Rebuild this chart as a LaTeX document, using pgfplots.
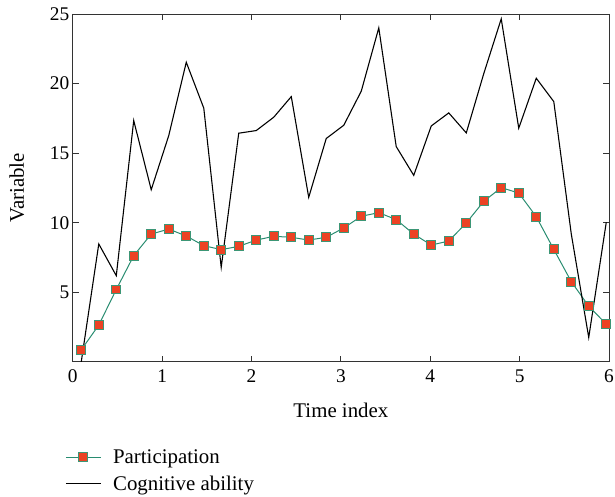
\documentclass[border=0pt]{standalone}
\usepackage{pgfplots}
\pgfplotsset{compat=1.18}
\usepackage{fontspec}
\setmainfont{Liberation Serif}
\definecolor{tealline}{RGB}{40,140,112}
\definecolor{redfill}{RGB}{236,66,36}
\definecolor{markedge}{RGB}{60,150,118}
\begin{document}
\begin{tikzpicture}
\begin{axis}[
  scale only axis, width=538bp, height=349bp,
  xmin=0, xmax=6, ymin=0, ymax=25,
  xtick={0,1,2,3,4,5,6}, ytick={5,10,15,20,25},
  tick align=inside, major tick length=6bp,
  axis line style={line width=0.9pt, black!80},
  every tick/.style={line width=0.8pt, black!80},
  font=\fontsize{21}{25}\selectfont,
  tick label style={font=\fontsize{19.5}{23}\selectfont},
  xticklabel style={yshift=-4bp},
  /pgf/number format/assume math mode=true,
  xlabel={Time index}, ylabel={Variable},
  xlabel style={yshift=-14bp},
  ylabel style={yshift=19bp},
  legend style={at={(-0.02,-0.24)}, anchor=north west, draw=none, fill=none,
    font=\fontsize{21}{25}\selectfont, row sep=7bp,
    /tikz/every odd column/.append style={column sep=10bp}},
  legend cell align=left,
  legend image code/.code={\draw[mark repeat=2,mark phase=2,#1] plot coordinates {(0bp,0bp) (17.5bp,0bp) (35bp,0bp)};},
]
\addplot[tealline, line width=1pt, mark=square*, mark size=4.5pt,
  mark options={fill=redfill, draw=markedge, line width=1pt}] coordinates {
(0.095,0.86) (0.291,2.64) (0.487,5.20) (0.682,7.63) (0.878,9.18) (1.074,9.54)
(1.270,9.04) (1.466,8.35) (1.661,8.06) (1.857,8.30) (2.053,8.75) (2.249,9.02)
(2.445,8.95) (2.640,8.75) (2.836,8.95) (3.032,9.62) (3.228,10.46) (3.424,10.72)
(3.619,10.22) (3.815,9.18) (4.011,8.39) (4.207,8.68) (4.403,9.98) (4.598,11.53)
(4.794,12.52) (4.990,12.13) (5.186,10.43) (5.382,8.08) (5.578,5.76) (5.773,4.00)
(5.969,2.71)
};
\addlegendentry{Participation}
\addplot[black, line width=1.1pt, mark=none] coordinates {
(0.095,0.0) (0.291,8.47) (0.487,6.19) (0.682,17.34) (0.878,12.37) (1.074,16.26)
(1.270,21.53) (1.466,18.23) (1.661,6.79) (1.857,16.43) (2.053,16.62) (2.249,17.58)
(2.445,19.06) (2.640,11.82) (2.836,16.05) (3.032,17.00) (3.228,19.45) (3.424,24.00)
(3.619,15.47) (3.815,13.40) (4.011,16.95) (4.207,17.89) (4.403,16.45) (4.598,20.70)
(4.794,24.65) (4.990,16.79) (5.186,20.38) (5.382,18.70) (5.578,9.18) (5.773,1.75)
(5.969,10.02)
};
\addlegendentry{Cognitive ability}
\end{axis}
\pgfresetboundingbox
\useasboundingbox (-73bp,-135bp) rectangle (544bp,363bp);
\end{tikzpicture}
\end{document}
